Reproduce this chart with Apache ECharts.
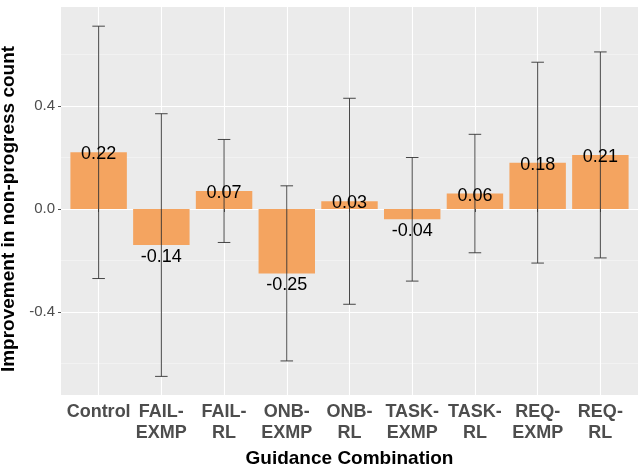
<!DOCTYPE html>
<html>
<head>
<meta charset="utf-8">
<script src="https://cdn.jsdelivr.net/npm/echarts@6/dist/echarts.min.js"></script>
<style>html,body{margin:0;padding:0;background:#fff}#c{width:639px;height:468px}</style>
</head>
<body>
<div id="c"></div>
<script>
const categories = ['Control','FAIL-EXMP','FAIL-RL','ONB-EXMP','ONB-RL','TASK-EXMP','TASK-RL','REQ-EXMP','REQ-RL'];
const means = [0.22,-0.14,0.07,-0.25,0.03,-0.04,0.06,0.18,0.21];
const lower = [-0.27,-0.65,-0.13,-0.59,-0.37,-0.28,-0.17,-0.21,-0.19];
const upper = [0.71,0.37,0.27,0.09,0.43,0.20,0.29,0.57,0.61];
const yTicks = [-0.4, 0.0, 0.4];

const FONT = 'Liberation Sans, Arial, Helvetica, sans-serif';
// layout
const panel = {left: 61, top: 7, width: 577, height: 388};
const scaleTop = 3, scaleHeight = 412, yLo = -0.8, yHi = 0.8;
const pxPerUnit = scaleHeight / (yHi - yLo);
const zeroPx = scaleTop + yHi * pxPerUnit;
const panelMax = (zeroPx - panel.top) / pxPerUnit;
const panelMin = (zeroPx - (panel.top + panel.height)) / pxPerUnit;
const step = panel.width / (categories.length - 1 + 1.2);
const innerLeft = panel.left + 0.6 * step;
const innerRight = 639 - (innerLeft + (categories.length - 1) * step);

const chart = echarts.init(document.getElementById('c'), null, {renderer: 'canvas'});
const option = {
  animation: false,
  backgroundColor: '#ffffff',
  graphic: [{
    type: 'rect', silent: true, z: -100,
    shape: {x: panel.left, y: panel.top, width: panel.width, height: panel.height},
    style: {fill: '#EBEBEB'}
  }],
  grid: [
    {left: panel.left, right: 639 - panel.left - panel.width, top: scaleTop, height: scaleHeight,
     containLabel: false, outerBoundsMode: 'none'},
    {left: innerLeft, right: innerRight, top: panel.top, height: panel.height,
     containLabel: false, outerBoundsMode: 'none'}
  ],
  xAxis: [
    {type: 'value', gridIndex: 0, show: false, min: 0, max: 1},
    {
      type: 'category', gridIndex: 1, data: categories, boundaryGap: false,
      axisLine: {show: false},
      axisTick: {show: true, length: 3, lineStyle: {color: '#555555', width: 1}},
      axisLabel: {
        interval: 0, margin: 7, fontFamily: FONT, fontSize: 18, fontWeight: 'bold',
        color: '#4D4D4D', lineHeight: 21,
        formatter: v => v.replace('-', '-\n')
      },
      splitLine: {show: true, lineStyle: {color: '#ffffff', width: 1.1}},
      name: 'Guidance Combination', nameLocation: 'middle', nameGap: 54,
      nameTextStyle: {fontFamily: FONT, fontSize: 19, fontWeight: 'bold', color: '#000'}
    }
  ],
  yAxis: [
    {
      type: 'value', gridIndex: 0, min: yLo, max: yHi, interval: 0.4,
      axisLine: {show: false},
      axisTick: {show: true, length: 3, customValues: yTicks, lineStyle: {color: '#555555', width: 1}},
      axisLabel: {
        customValues: yTicks, margin: 6, fontFamily: FONT, fontSize: 15, color: '#4D4D4D',
        formatter: v => (Math.abs(v) < 1e-9 ? 0 : v).toFixed(1)
      },
      splitLine: {show: true, lineStyle: {color: '#ffffff', width: 1.1}},
      minorTick: {show: false, splitNumber: 2},
      minorSplitLine: {show: true, lineStyle: {color: '#F7F7F7', width: 0.6}},
      name: 'Improvement in non-progress count', nameLocation: 'middle', nameGap: 27,
      nameTextStyle: {fontFamily: FONT, fontSize: 19, fontWeight: 'bold', color: '#000'}
    },
    {type: 'value', gridIndex: 1, show: false, min: panelMin, max: panelMax}
  ],
  series: [
    {
      type: 'bar', xAxisIndex: 1, yAxisIndex: 1, data: means, barWidth: 0.9 * step,
      clip: false, itemStyle: {color: '#F4A460'}, silent: true
    },
    {
      type: 'custom', xAxisIndex: 1, yAxisIndex: 1, clip: false, silent: true,
      data: categories.map((c, i) => [i, lower[i], upper[i]]),
      renderItem: (params, api) => {
        const i = api.value(0);
        const lo = api.coord([i, api.value(1)]);
        const hi = api.coord([i, api.value(2)]);
        const hw = 0.1 * step;
        const st = {stroke: '#333333', lineWidth: 0.9};
        return {type: 'group', children: [
          {type: 'line', shape: {x1: lo[0], y1: lo[1], x2: hi[0], y2: hi[1]}, style: st},
          {type: 'line', shape: {x1: lo[0] - hw, y1: lo[1], x2: lo[0] + hw, y2: lo[1]}, style: st},
          {type: 'line', shape: {x1: hi[0] - hw, y1: hi[1], x2: hi[0] + hw, y2: hi[1]}, style: st}
        ]};
      },
      z: 3
    },
    {
      type: 'custom', xAxisIndex: 1, yAxisIndex: 1, clip: false, silent: true,
      data: means.map((m, i) => [i, m]),
      renderItem: (params, api) => {
        const v = api.value(1);
        const p = api.coord([api.value(0), v]);
        return {type: 'text', style: {
          text: v.toFixed(2), x: p[0], y: p[1] + (v >= 0 ? 2 : 12),
          textAlign: 'center', textVerticalAlign: 'middle',
          fontFamily: FONT, fontSize: 18, fill: '#000000'
        }};
      },
      z: 4
    }
  ]
};
chart.setOption(option);
</script>
</body>
</html>
